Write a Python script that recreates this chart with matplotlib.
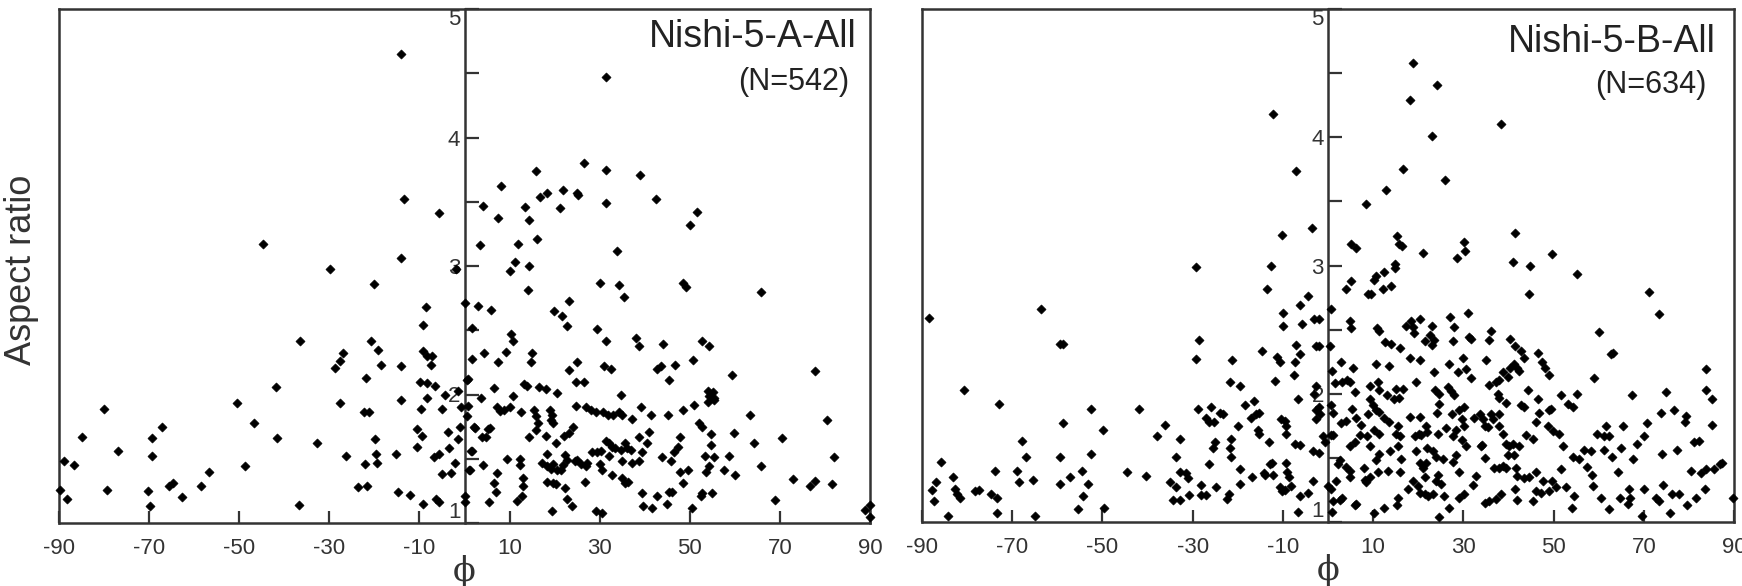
import matplotlib
matplotlib.use("Agg")
import matplotlib.pyplot as plt

plt.rcParams['font.family'] = ['Liberation Sans', 'DejaVu Sans']

# ---- Nishi-5-A-All : (phi, aspect ratio) ----
a_phi = [
    -14.2, -13.5, -5.7, -44.7, -14.2, -29.8, -1.8, -20.1, 0.0, -8.5, -9.2, -36.6, -20.7, -19.2,
    -27.0, -27.6, -28.7, -18.5, -14.2, -9.2, -8.3, -7.2, -7.4, -21.8, -9.8, -8.4, -6.6, 0.5,
    -41.8, -14.2, -27.6, -8.3, -4.4, -1.4, -50.5, -80.1, -22.4, -21.1, -9.6, -5.1, -0.7, -46.8,
    -67.2, -10.5, -9.4, -3.6, -0.9, -85.0, -69.4, -41.6, -19.9, -1.5, -32.7, -77.0, -10.5, -3.5,
    -15.3, -19.6, -69.3, -26.4, -6.8, -5.6, -89.0, -86.6, -48.7, -22.0, -19.5, -2.1, -56.7, -5.0,
    -3.0, -65.6, -64.6, -58.5, -23.7, -21.7, -89.8, -79.4, -70.3, -88.3, -62.7, -14.8, -12.2, -6.4,
    -5.6, -69.8, -36.8, -9.2, 0.0, 0.0,
    31.3, 26.5, 31.3, 38.9, 15.8, 8.2, 42.4, 21.9, 18.4, 16.7, 21.2, 24.9, 25.2, 31.5,
    13.4, 4.1, 7.4, 14.4, 51.6, 50.0, 16.1, 3.4, 11.9, 33.9, 11.3, 10.2, 14.3, 30.1,
    34.3, 35.5, 48.5, 49.1, 65.8, 14.1, 23.3, 3.0, 5.8, 19.9, 21.7, 22.8, 1.7, 29.3,
    10.4, 10.7, 31.3, 38.0, 38.7, 52.7, 54.3, 44.1, 4.4, 15.0, 1.6, 7.5, 9.1, 14.8,
    25.0, 23.3, 30.9, 32.6, 43.6, 42.8, 46.7, 50.8, 59.3, 77.9, 0.7, 24.7, 26.5, 45.4,
    13.3, 13.9, 6.5, 16.5, 18.0, 20.6, 34.7, 54.0, 55.1, 55.4, 54.0, 55.4, 54.3, 3.6,
    10.8, 24.7, 26.9, 28.0, 29.1, 30.7, 31.9, 33.0, 34.3, 35.0, 37.1, 39.2, 41.3, 45.2,
    48.5, 50.9, 63.4, 80.4, 0.7, 0.6, 7.3, 7.8, 8.7, 10.0, 12.6, 15.4, 15.8, 16.4,
    18.9, 19.5, 19.3, 19.7, 2.1, 3.8, 5.2, 5.6, 1.5, 4.1, 1.0, 9.5, 12.4, 12.3,
    13.0, 13.0, 12.7, 11.6, 7.3, 6.5, 7.1, 5.4, 14.3, 15.8, 18.0, 18.4, 17.1, 18.4,
    19.1, 19.7, 20.6, 21.5, 21.9, 22.4, 20.4, 18.4, 19.7, 20.2, 19.5, 22.4, 22.8, 23.9,
    22.1, 23.2, 24.1, 22.8, 24.5, 24.9, 25.8, 26.9, 27.2, 26.7, 28.4, 29.3, 30.1, 30.6,
    30.2, 29.1, 30.6, 31.5, 32.1, 32.8, 33.3, 32.0, 32.8, 34.7, 35.0, 35.7, 36.1, 35.7,
    36.3, 35.0, 37.0, 37.2, 38.7, 39.3, 40.4, 38.7, 40.9, 39.3, 39.6, 41.7, 42.7, 43.8,
    45.0, 45.4, 46.0, 45.8, 46.5, 47.3, 47.8, 47.9, 48.5, 49.6, 50.6, 52.1, 52.8, 54.7,
    54.7, 53.4, 55.4, 54.3, 53.5, 52.8, 52.4, 54.9, 58.6, 57.5, 59.9, 60.1, 64.3, 65.8,
    68.9, 70.4, 72.8, 76.7, 77.9, 81.5, 82.1, 89.9, 89.9, 89.0, 2.3, 4.8, 1.2, 1.7,
]
a_ratio = [
    4.65, 3.52, 3.41, 3.17, 3.06, 2.98, 2.98, 2.86, 2.71, 2.68, 2.54, 2.42, 2.42, 2.35,
    2.32, 2.26, 2.21, 2.23, 2.22, 2.34, 2.30, 2.30, 2.23, 2.13, 2.10, 2.09, 2.07, 2.11,
    2.06, 1.96, 1.93, 1.97, 2.00, 2.03, 1.93, 1.89, 1.86, 1.86, 1.89, 1.89, 1.90, 1.78,
    1.75, 1.73, 1.68, 1.71, 1.75, 1.67, 1.66, 1.66, 1.65, 1.65, 1.62, 1.56, 1.59, 1.58,
    1.54, 1.54, 1.52, 1.52, 1.51, 1.54, 1.48, 1.45, 1.44, 1.46, 1.47, 1.47, 1.40, 1.38,
    1.39, 1.29, 1.31, 1.29, 1.28, 1.29, 1.26, 1.26, 1.25, 1.19, 1.20, 1.24, 1.22, 1.19,
    1.16, 1.13, 1.14, 1.15, 1.21, 1.16,
    4.47, 3.80, 3.75, 3.71, 3.74, 3.62, 3.52, 3.59, 3.57, 3.54, 3.45, 3.57, 3.55, 3.49,
    3.46, 3.47, 3.37, 3.36, 3.42, 3.32, 3.21, 3.16, 3.17, 3.12, 3.03, 2.96, 3.00, 2.87,
    2.85, 2.76, 2.87, 2.84, 2.80, 2.81, 2.73, 2.69, 2.66, 2.65, 2.61, 2.53, 2.52, 2.51,
    2.47, 2.42, 2.42, 2.44, 2.38, 2.42, 2.38, 2.39, 2.32, 2.32, 2.28, 2.25, 2.33, 2.25,
    2.25, 2.19, 2.22, 2.20, 2.22, 2.20, 2.23, 2.27, 2.15, 2.18, 2.12, 2.10, 2.10, 2.11,
    2.08, 2.07, 2.05, 2.06, 2.04, 2.01, 2.00, 2.03, 2.02, 1.97, 1.94, 1.96, 1.99, 1.97,
    1.99, 1.91, 1.90, 1.88, 1.86, 1.86, 1.84, 1.84, 1.86, 1.84, 1.81, 1.90, 1.84, 1.84,
    1.88, 1.92, 1.84, 1.80, 1.91, 1.83, 1.90, 1.87, 1.88, 1.90, 1.86, 1.88, 1.83, 1.78,
    1.88, 1.84, 1.80, 1.78, 1.75, 1.67, 1.73, 1.74, 1.56, 1.45, 1.41, 1.50, 1.50, 1.45,
    1.35, 1.29, 1.21, 1.17, 1.39, 1.31, 1.24, 1.16, 1.67, 1.72, 1.68, 1.54, 1.47, 1.44,
    1.42, 1.46, 1.41, 1.41, 1.45, 1.53, 1.62, 1.32, 1.31, 1.30, 1.09, 1.27, 1.19, 1.13,
    1.68, 1.70, 1.75, 1.49, 1.48, 1.49, 1.46, 1.44, 1.47, 1.32, 1.55, 1.55, 1.46, 1.41,
    1.56, 1.09, 1.08, 1.64, 1.62, 1.59, 1.58, 1.52, 1.37, 1.57, 1.48, 1.62, 1.58, 1.31,
    1.32, 1.35, 1.57, 1.47, 1.48, 1.55, 1.62, 1.67, 1.71, 1.23, 1.13, 1.12, 1.21, 1.51,
    1.15, 1.24, 1.24, 1.48, 1.55, 1.59, 1.67, 1.40, 1.31, 1.41, 1.12, 1.78, 1.75, 1.69,
    1.61, 1.52, 1.51, 1.44, 1.40, 1.23, 1.21, 1.23, 1.52, 1.41, 1.70, 1.37, 1.62, 1.44,
    1.18, 1.66, 1.34, 1.29, 1.33, 1.30, 1.51, 1.14, 1.05, 1.10, 1.74, 1.67, 1.41, 1.56,
]

# ---- Nishi-5-B-All ----
b_phi = [
    -12.2, -7.0, -3.6, -10.1, -29.2, -12.7, -13.5, -4.4, -6.3, -10.0, -10.0, -5.8, -3.1, -2.1,
    0.7, -88.4, -63.6, -59.5, -58.8, -28.6, -29.2, -7.0, -6.1, -2.6, -2.0, 0.4, -14.6, -11.2,
    -10.7, -7.4, -7.5, -11.8, -21.2, -21.8, -19.4, -2.6, -6.7, -3.1, -80.6, -73.0, -18.5, -16.4,
    -28.8, -25.9, -27.1, -26.3, -25.2, -24.0, -23.3, -17.0, -15.9, -15.2, -19.9, -10.4, -9.2, -9.5,
    -2.6, -1.7, -2.1, -2.6, -52.5, -41.8, -58.8, -49.8, -36.1, -37.9, -32.7, -15.5, -15.2, -21.6,
    -25.0, -25.4, -21.8, -21.4, -26.3, -19.4, -16.8, -13.1, -12.9, -12.4, -13.9, -12.2, -9.2, -7.4,
    -6.3, -3.3, -2.1, -1.1, -0.7, -9.2, -9.0, -8.7, -8.3, -10.7, -10.1, -9.6, -6.3, -4.4,
    -3.3, -6.7, -0.1, -67.8, -66.9, -59.5, -52.5, -85.8, -83.2, -87.0, -87.8, -87.4, -82.7, -82.2,
    -81.5, -84.3, -78.2, -77.3, -74.7, -73.9, -73.4, -73.4, -69.0, -68.5, -65.3, -64.9, -59.5, -57.3,
    -54.5, -53.2, -54.3, -55.5, -49.6, -44.6, -40.3, -35.1, -33.8, -33.6, -32.7, -31.4, -31.1, -34.4,
    -32.9, -30.8, -28.1, -28.1, -27.1, -24.9, -22.4, -22.0, -19.4, -14.2,
    18.8, 18.2, 24.1, 23.0, 38.3, 16.6, 26.0, 12.9, 8.5, 41.5, 41.1, 44.8, 49.6, 55.2,
    44.6, 71.2, 73.4, 60.0, 63.1, 62.7, 5.2, 6.3, 15.3, 15.7, 16.4, 21.0, 30.1, 30.4,
    28.6, 14.9, 14.8, 12.4, 10.6, 10.3, 5.0, 3.9, 8.8, 9.6, 12.3, 14.0, 4.8, 5.0,
    10.9, 11.3, 12.7, 14.0, 17.2, 18.4, 18.9, 19.0, 20.3, 23.1, 21.4, 22.6, 23.6, 23.1,
    27.1, 28.0, 31.0, 31.2, 31.7, 27.7, 36.1, 35.8, 15.9, 40.4, 41.4, 42.8, 43.5, 46.5,
    47.4, 48.1, 49.0, 83.7, 83.8, 85.2, 85.2, 59.0, 10.7, 13.5, 5.5, 2.9, 0.9, 1.5,
    3.2, 4.3, 4.9, 5.9, 9.4, 11.1, 11.4, 13.0, 14.6, 15.7, 15.1, 16.7, 9.2, 9.9,
    18.1, 20.3, 19.5, 23.5, 23.8, 24.7, 26.5, 27.3, 27.9, 26.9, 29.9, 30.6, 28.8, 31.7,
    35.0, 35.6, 37.2, 38.0, 38.9, 39.8, 40.3, 41.3, 42.0, 42.4, 44.3, 42.8, 43.4, 37.6,
    37.8, 46.5, 51.6, 55.2, 53.1, 54.4, 67.3, 74.9, 0.7, 1.1, 0.7, 1.1, 2.9, 4.1,
    5.4, 6.3, 7.4, 8.8, 10.6, 11.4, 12.5, 13.5, 15.5, 15.1, 15.9, 15.5, 18.1, 20.3,
    19.2, 20.1, 20.7, 21.8, 21.9, 24.3, 24.2, 24.5, 26.2, 27.7, 28.4, 29.6, 30.1, 29.1,
    27.5, 30.2, 30.6, 29.6, 32.3, 33.6, 34.3, 34.7, 35.4, 36.1, 36.5, 37.9, 38.7, 39.5,
    37.9, 39.5, 34.1, 34.9, 36.9, 37.9, 38.7, 40.2, 40.9, 41.3, 42.3, 43.9, 45.4, 46.1,
    46.8, 48.9, 49.4, 48.7, 49.8, 51.1, 52.0, 51.6, 54.2, 55.7, 56.8, 58.3, 57.5, 58.6,
    59.6, 61.2, 61.6, 61.2, 62.2, 62.9, 64.2, 65.3, 65.0, 67.5, 68.6, 70.1, 70.8, 73.9,
    74.1, 76.7, 79.1, 79.4, 77.4, 81.1, 82.2, 80.4, 82.6, 83.7, 85.5, 87.0, 87.3, 83.6,
    89.8, 81.5, 79.6, 77.7, 76.3, 75.9, 74.3, 72.6, 73.4, 70.1, 69.7, 66.7, 66.9, 66.6,
    64.7, 62.2, 60.5, 58.8, 54.1, 54.6, 52.7, 50.5, 49.6, 48.9, 47.3, 46.2, 45.4, 44.6,
    46.2, 42.0, 41.5, 42.0, 38.3, 37.2, 35.8, 34.7, 32.8, 32.1, 30.1, 29.1, 26.8, 24.7,
    25.7, 25.1, 24.0, 24.3, 23.2, 22.1, 21.4, 20.3, 21.4, 21.0, 21.8, 20.3, 19.9, 18.8,
    17.7, 16.2, 15.9, 15.5, 15.3, 13.8, 13.3, 12.5, 11.4, 10.7, 11.1, 10.1, 9.2, 7.9,
    8.1, 8.5, 9.2, 6.3, 5.9, 4.8, 4.8, 4.1, 2.6, 2.2, 3.1, 2.6, 1.8, 1.1,
    0.9, 0.7, 4.9, 5.9, 7.2, 8.7, 10.3, 11.4, 19.5, 22.0, 23.2, 23.9, 25.4, 27.7,
    28.4, 29.1, 33.9, 39.5, 39.8, 43.5, 47.6, 41.7,
]
b_ratio = [
    4.18, 3.74, 3.29, 3.24, 2.99, 3.00, 2.82, 2.76, 2.69, 2.63, 2.53, 2.54, 2.58, 2.58,
    2.66, 2.59, 2.66, 2.39, 2.39, 2.42, 2.27, 2.38, 2.31, 2.37, 2.37, 2.37, 2.33, 2.29,
    2.25, 2.25, 2.15, 2.10, 2.26, 2.09, 2.06, 2.06, 1.96, 2.00, 2.03, 1.92, 1.91, 1.94,
    1.88, 1.90, 1.81, 1.78, 1.78, 1.85, 1.84, 1.81, 1.84, 1.85, 1.75, 1.80, 1.75, 1.79,
    1.87, 1.84, 1.90, 1.80, 1.88, 1.88, 1.77, 1.72, 1.76, 1.67, 1.65, 1.72, 1.69, 1.65,
    1.62, 1.58, 1.58, 1.51, 1.45, 1.41, 1.35, 1.62, 1.45, 1.46, 1.37, 1.37, 1.69, 1.61,
    1.60, 1.55, 1.54, 1.67, 1.62, 1.46, 1.39, 1.35, 1.28, 1.27, 1.24, 1.25, 1.20, 1.23,
    1.32, 1.08, 1.28, 1.63, 1.51, 1.51, 1.53, 1.47, 1.35, 1.31, 1.25, 1.16, 1.26, 1.22,
    1.19, 1.05, 1.24, 1.25, 1.22, 1.40, 1.19, 1.07, 1.40, 1.31, 1.33, 1.05, 1.30, 1.35,
    1.40, 1.30, 1.20, 1.10, 1.11, 1.39, 1.36, 1.31, 1.51, 1.27, 1.39, 1.38, 1.34, 1.17,
    1.17, 1.21, 1.29, 1.21, 1.21, 1.27, 1.18, 1.22, 1.30, 1.38,
    4.58, 4.29, 4.41, 4.01, 4.10, 3.75, 3.67, 3.59, 3.48, 3.25, 3.03, 3.00, 3.09, 2.93,
    2.78, 2.79, 2.62, 2.48, 2.32, 2.31, 3.17, 3.14, 3.23, 3.17, 3.15, 3.10, 3.18, 3.11,
    3.06, 3.01, 2.98, 2.95, 2.92, 2.89, 2.88, 2.82, 2.78, 2.78, 2.82, 2.84, 2.57, 2.51,
    2.51, 2.49, 2.40, 2.39, 2.53, 2.57, 2.52, 2.47, 2.58, 2.53, 2.41, 2.46, 2.42, 2.38,
    2.60, 2.52, 2.63, 2.44, 2.43, 2.41, 2.49, 2.42, 2.36, 2.43, 2.37, 2.33, 2.28, 2.32,
    2.25, 2.20, 2.15, 2.19, 2.03, 1.96, 1.76, 2.12, 2.23, 2.22, 2.20, 2.25, 2.18, 2.08,
    2.09, 2.11, 2.09, 2.01, 2.06, 2.09, 2.03, 1.99, 1.96, 1.97, 2.04, 2.04, 1.96, 1.91,
    2.28, 2.26, 2.09, 2.17, 2.03, 2.00, 2.05, 2.02, 1.99, 2.23, 2.28, 2.19, 2.17, 2.12,
    2.26, 2.07, 2.09, 2.11, 2.17, 2.13, 2.20, 2.23, 2.20, 2.18, 2.03, 1.91, 1.90, 2.00,
    1.97, 1.96, 1.99, 2.00, 1.92, 1.90, 1.99, 2.01, 1.91, 1.85, 1.68, 1.68, 1.77, 1.79,
    1.88, 1.81, 1.76, 1.84, 1.87, 1.86, 1.81, 1.78, 1.75, 1.69, 1.67, 1.59, 1.82, 1.82,
    1.67, 1.69, 1.68, 1.75, 1.70, 1.69, 1.85, 1.92, 1.73, 1.67, 1.72, 1.80, 1.75, 1.87,
    1.84, 1.90, 1.59, 1.64, 1.81, 1.84, 1.80, 1.75, 1.74, 1.84, 1.80, 1.75, 1.69, 1.61,
    1.84, 1.93, 1.60, 1.50, 1.42, 1.42, 1.44, 1.59, 1.61, 1.52, 1.59, 1.68, 1.65, 1.78,
    1.85, 1.87, 1.88, 1.75, 1.71, 1.69, 1.59, 1.41, 1.51, 1.49, 1.56, 1.55, 1.43, 1.37,
    1.69, 1.56, 1.75, 1.67, 1.67, 1.51, 1.39, 1.75, 1.58, 1.49, 1.61, 1.67, 1.77, 1.85,
    1.53, 1.87, 1.78, 1.83, 1.56, 1.62, 1.63, 1.40, 1.38, 1.41, 1.41, 1.45, 1.46, 1.26,
    1.19, 1.19, 1.13, 1.22, 1.22, 1.07, 1.29, 1.19, 1.16, 1.26, 1.05, 1.26, 1.19, 1.14,
    1.19, 1.10, 1.19, 1.28, 1.11, 1.20, 1.27, 1.27, 1.32, 1.24, 1.23, 1.24, 1.16, 1.35,
    1.39, 1.17, 1.26, 1.36, 1.22, 1.18, 1.16, 1.15, 1.36, 1.29, 1.22, 1.19, 1.11, 1.04,
    1.20, 1.30, 1.32, 1.37, 1.22, 1.20, 1.22, 1.23, 1.35, 1.42, 1.46, 1.46, 1.28, 1.32,
    1.26, 1.49, 1.39, 1.19, 1.13, 1.55, 1.40, 1.11, 1.53, 1.48, 1.39, 1.07, 1.59, 1.42,
    1.33, 1.31, 1.35, 1.14, 1.13, 1.35, 1.40, 1.43, 1.48, 1.45, 1.19, 1.17, 1.32, 1.16,
    1.08, 1.26, 1.59, 1.62, 1.68, 1.67, 1.72, 1.69, 1.55, 1.58, 1.55, 1.51, 1.49, 1.47,
    1.52, 1.39, 1.59, 1.42, 1.52, 1.34, 1.32, 1.42,
]

titles = ["Nishi-5-A-All", "Nishi-5-B-All"]
counts = ["(N=542)", "(N=634)"]
x_ticks = [-90, -70, -50, -30, -10, 10, 30, 50, 70, 90]
y_major = [1, 2, 3, 4, 5]
y_minor = [1.5, 2.5, 3.5, 4.5]

ink = '#333333'
W, H = 1742, 586
fig = plt.figure(figsize=(W / 100, H / 100), dpi=100)
ax1 = fig.add_axes([59 / W, 63 / H, 811 / W, 514 / H])
ax2 = fig.add_axes([922 / W, 64 / H, 812 / W, 513 / H])

panels = [(ax1, a_phi, a_ratio), (ax2, b_phi, b_ratio)]
title_pos = [((0.984, 0.946), (0.974, 0.858)), ((0.977, 0.935), (0.966, 0.852))]

for i, (ax, xs, ys) in enumerate(panels):
    ax.scatter(xs, ys, marker='D', s=22, color='black', linewidths=0.4, zorder=3, clip_on=False)
    ax.set_xlim(-90, 90)
    ax.set_ylim(1.0, 5.0)

    # y axis sits on phi = 0
    ax.spines['left'].set_position(('data', 0))
    for sp in ax.spines.values():
        sp.set_color(ink)
        sp.set_linewidth(1.8)
    ax.plot([0, 0], [0, 1], transform=ax.transAxes, color=ink, lw=1.8, clip_on=False)

    ax.set_xticks(x_ticks)
    ax.set_xticklabels([str(t) for t in x_ticks])
    ax.set_yticks(y_major)
    ax.set_yticks(y_minor, minor=True)
    ax.tick_params(axis='x', direction='in', length=9, width=1.6, color=ink,
                   labelsize=16, labelcolor=ink, pad=11)
    ax.tick_params(axis='y', which='both', direction='in', length=10, width=1.6,
                   color=ink, labelsize=16, labelcolor=ink, pad=3)
    labs = ax.get_yticklabels()
    labs[0].set_va('bottom')
    labs[-1].set_va('top')

    ax.set_xlabel('ϕ', family=['DejaVu Serif'], fontsize=24, labelpad=-3, color=ink)

    (tx, ty), (nx, ny) = title_pos[i]
    ax.text(tx, ty, titles[i], transform=ax.transAxes, ha='right', va='center',
            fontsize=27, color='#222222')
    ax.text(nx, ny, counts[i], transform=ax.transAxes, ha='right', va='center',
            fontsize=22, color='#222222')

fig.text(22 / W, 1 - 270 / H, 'Aspect ratio', rotation=90, ha='center', va='center',
         fontsize=26, color='#333333')

fig.savefig('out.png', dpi=100)
